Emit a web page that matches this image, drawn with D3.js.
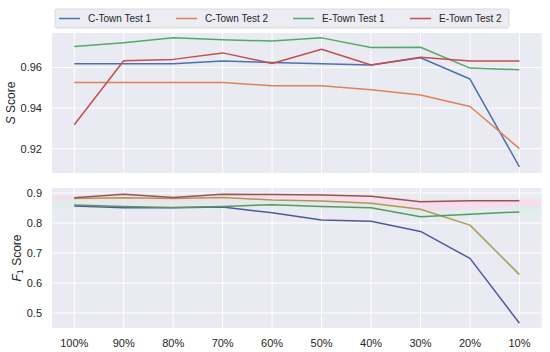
<!DOCTYPE html>
<html><head><meta charset="utf-8">
<script src="https://cdn.jsdelivr.net/npm/d3@7"></script>
<style>body{margin:0;background:#fff}svg{display:block}</style>
</head><body><svg id="c" width="550" height="352"></svg>
<script>
const categories = ["100%","90%","80%","70%","60%","50%","40%","30%","20%","10%"];
const seriesNames = ["C-Town Test 1","C-Town Test 2","E-Town Test 1","E-Town Test 2"];
// S Score
const sCTown1 = [0.9618,0.9618,0.9618,0.9632,0.9625,0.9618,0.9612,0.9648,0.9543,0.9110];
const sCTown2 = [0.9526,0.9526,0.9526,0.9526,0.9510,0.9510,0.9490,0.9464,0.9408,0.9200];
const sETown1 = [0.9703,0.9722,0.9746,0.9737,0.9730,0.9746,0.9698,0.9700,0.9597,0.9589];
const sETown2 = [0.9318,0.9633,0.9640,0.9672,0.9620,0.9690,0.9612,0.9650,0.9632,0.9632];
// F1 Score
const fCTown1 = [0.857,0.851,0.851,0.853,0.834,0.810,0.806,0.772,0.682,0.466];
const fCTown2 = [0.882,0.884,0.882,0.885,0.877,0.873,0.866,0.846,0.793,0.628];
const fETown1 = [0.860,0.855,0.852,0.855,0.861,0.855,0.851,0.821,0.829,0.837];
const fETown2 = [0.884,0.896,0.885,0.896,0.895,0.893,0.889,0.871,0.874,0.874];
const sTicks = [0.92,0.94,0.96];
const fTicks = [0.5,0.6,0.7,0.8,0.9];

const topColors = ["#4c72b0","#dd8452","#55a868","#c44e52"];
const botColors = ["#4e5aa0","#a99b55","#6b8e64","#8d5b52"];

const svg = d3.select("#c");
const L = 52, R = 541.7;
const x = d3.scalePoint().domain(categories).range([L, R]).padding(0.45);
const font = "Liberation Sans, Arial, sans-serif";

function panel(top, bottom, domain, ticks, id) {
  const y = d3.scaleLinear().domain(domain).range([bottom, top]);
  const g = svg.append("g");
  g.append("rect").attr("x", L).attr("y", top).attr("width", R - L).attr("height", bottom - top).attr("fill", "#eaeaf2");
  g.append("clipPath").attr("id", id).append("rect").attr("x", L).attr("y", top).attr("width", R - L).attr("height", bottom - top);
  g.selectAll(".vg").data(categories).join("line")
    .attr("x1", d => x(d)).attr("x2", d => x(d)).attr("y1", top).attr("y2", bottom)
    .attr("stroke", "#fff").attr("stroke-width", 1);
  g.selectAll(".hg").data(ticks).join("line")
    .attr("x1", L).attr("x2", R).attr("y1", d => y(d)).attr("y2", d => y(d))
    .attr("stroke", "#fff").attr("stroke-width", 1);
  g.selectAll(".yt").data(ticks).join("text")
    .attr("x", L - 10).attr("y", d => y(d)).attr("dy", "0.35em")
    .attr("text-anchor", "end").attr("font-family", font).attr("font-size", 11).attr("fill", "#262626")
    .text(d => d3.format(ticks.length > 3 ? ".1f" : ".2f")(d));
  return {g, y};
}

const sP = panel(33, 173, [0.908, 0.977], sTicks, "cl1");
const fP = panel(188, 328, [0.45, 0.9167], fTicks, "cl2");

function bandPath(vals, y, shift) {
  const pts = [[L, y(vals[0]) + shift]].concat(vals.map((v, i) => [x(categories[i]), y(v) + shift])).concat([[R, y(vals[vals.length-1]) + shift]]);
  return d3.line()(pts);
}
const bands = fP.g.append("g").attr("clip-path", "url(#cl2)");
bands.append("path").attr("d", bandPath(fETown2, fP.y, 4)).attr("fill", "none")
  .attr("stroke", "#ffd3e6").attr("stroke-width", 11).attr("opacity", 0.6);
bands.append("path").attr("d", bandPath(fETown1, fP.y, -1)).attr("fill", "none")
  .attr("stroke", "#d4f3ea").attr("stroke-width", 9).attr("opacity", 0.6);

const line = (y) => d3.line().x((d, i) => x(categories[i])).y(d => y(d));
[sCTown1, sCTown2, sETown1, sETown2].forEach((vals, k) => {
  sP.g.append("path").attr("d", line(sP.y)(vals)).attr("fill", "none")
    .attr("stroke", topColors[k]).attr("stroke-width", 1.5).attr("stroke-linejoin", "round");
});
[fCTown1, fCTown2, fETown1, fETown2].forEach((vals, k) => {
  fP.g.append("path").attr("d", line(fP.y)(vals)).attr("fill", "none")
    .attr("stroke", botColors[k]).attr("stroke-width", 1.5).attr("stroke-linejoin", "round");
});

svg.selectAll(".xt").data(categories).join("text")
  .attr("x", d => x(d)).attr("y", 343).attr("dy", "0.35em").attr("text-anchor", "middle")
  .attr("font-family", font).attr("font-size", 11).attr("fill", "#262626").text(d => d);

const yl1 = svg.append("text").attr("transform", `translate(15,${(33+173)/2}) rotate(-90)`)
  .attr("text-anchor", "middle").attr("font-family", font).attr("font-size", 12).attr("fill", "#262626");
yl1.append("tspan").attr("font-style", "italic").text("S");
yl1.append("tspan").text(" Score");
const yl2 = svg.append("text").attr("transform", `translate(21,${(188+328)/2}) rotate(-90)`)
  .attr("text-anchor", "middle").attr("font-family", font).attr("font-size", 12).attr("fill", "#262626");
yl2.append("tspan").attr("font-style", "italic").text("F");
yl2.append("tspan").attr("font-size", 9).attr("dy", 2).text("1");
yl2.append("tspan").attr("dy", -2).text(" Score");

const lg = svg.append("g");
lg.append("rect").attr("x", 55).attr("y", 9).attr("width", 454).attr("height", 19).attr("rx", 2)
  .attr("fill", "#ececf3").attr("stroke", "#d2d2d8").attr("stroke-width", 0.8);
seriesNames.forEach((n, i) => {
  const x0 = 59 + i * 117;
  lg.append("line").attr("x1", x0).attr("x2", x0 + 21).attr("y1", 18.5).attr("y2", 18.5)
    .attr("stroke", topColors[i]).attr("stroke-width", 1.5);
  lg.append("text").attr("x", x0 + 29).attr("y", 18.5).attr("dy", "0.35em")
    .attr("font-family", font).attr("font-size", 10).attr("fill", "#262626").text(n);
});
</script></body></html>
